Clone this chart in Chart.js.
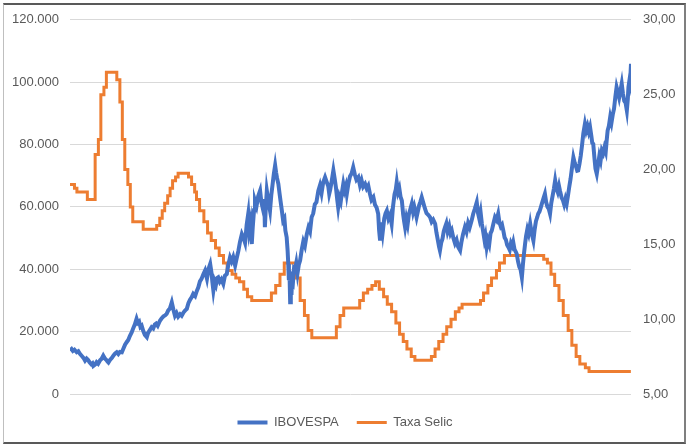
<!DOCTYPE html>
<html>
<head>
<meta charset="utf-8">
<script src="https://cdn.jsdelivr.net/npm/chart.js@4"></script>
<style>
  body { margin: 0; background: #fff; }
  #wrap { position: relative; width: 690px; height: 446px; }
  #frame {
    position: absolute; left: 3px; top: 3px; width: 680px; height: 437px;
    border-top: 2px solid #595959; border-bottom: 2px solid #595959;
    border-left: 1px solid #bfbfbf; border-right: 2px solid #7f7f7f;
    pointer-events: none;
  }
</style>
</head>
<body>
<div id="wrap">
  <canvas id="chart" width="690" height="446"></canvas>
  <div id="frame"></div>
</div>
<script>
// IBOVESPA (decimal year -> index points)
const ibovDates = [
  2002.00, 2002.05, 2002.09, 2002.14, 2002.21, 2002.26, 2002.31, 2002.37, 2002.42, 2002.47,
  2002.52, 2002.56, 2002.61, 2002.66, 2002.70, 2002.73, 2002.78, 2002.83, 2002.88, 2002.94,
  2002.99, 2003.04, 2003.09, 2003.13, 2003.17, 2003.20, 2003.25, 2003.31, 2003.36, 2003.41,
  2003.46, 2003.51, 2003.56, 2003.62, 2003.67, 2003.72, 2003.77, 2003.82, 2003.87, 2003.93,
  2003.98, 2004.03, 2004.08, 2004.12, 2004.16, 2004.20, 2004.24, 2004.29, 2004.34, 2004.40,
  2004.44, 2004.49, 2004.55, 2004.60, 2004.65, 2004.69, 2004.74, 2004.81, 2004.86, 2004.92,
  2004.97, 2005.02, 2005.07, 2005.12, 2005.18, 2005.23, 2005.28, 2005.33, 2005.38, 2005.44,
  2005.49, 2005.55, 2005.60, 2005.65, 2005.70, 2005.75, 2005.80, 2005.85, 2005.91, 2005.96,
  2006.01, 2006.06, 2006.11, 2006.17, 2006.22, 2006.28, 2006.33, 2006.38, 2006.42, 2006.45,
  2006.48, 2006.52, 2006.56, 2006.60, 2006.63, 2006.68, 2006.73, 2006.79, 2006.84, 2006.90,
  2006.95, 2007.00, 2007.05, 2007.10, 2007.16, 2007.21, 2007.26, 2007.31, 2007.37, 2007.42,
  2007.47, 2007.52, 2007.57, 2007.60, 2007.64, 2007.68, 2007.71, 2007.75, 2007.78, 2007.83,
  2007.88, 2007.94, 2007.98, 2008.04, 2008.07, 2008.09, 2008.12, 2008.15, 2008.20, 2008.25,
  2008.29, 2008.33, 2008.37, 2008.41, 2008.44, 2008.47, 2008.51, 2008.55, 2008.58, 2008.62,
  2008.66, 2008.70, 2008.73, 2008.77, 2008.80, 2008.82, 2008.84, 2008.86, 2008.88, 2008.90,
  2008.92, 2008.94, 2008.97, 2009.00, 2009.03, 2009.07, 2009.11, 2009.15, 2009.19, 2009.24,
  2009.29, 2009.34, 2009.40, 2009.45, 2009.50, 2009.55, 2009.60, 2009.65, 2009.70, 2009.76,
  2009.81, 2009.86, 2009.91, 2009.97, 2010.02, 2010.07, 2010.10, 2010.13, 2010.18, 2010.23,
  2010.27, 2010.31, 2010.35, 2010.38, 2010.42, 2010.46, 2010.50, 2010.54, 2010.58, 2010.62,
  2010.65, 2010.70, 2010.75, 2010.80, 2010.85, 2010.90, 2010.95, 2011.01, 2011.06, 2011.11,
  2011.16, 2011.22, 2011.27, 2011.32, 2011.37, 2011.42, 2011.48, 2011.53, 2011.58, 2011.63,
  2011.66, 2011.69, 2011.73, 2011.77, 2011.82, 2011.86, 2011.90, 2011.95, 2012.00, 2012.05,
  2012.09, 2012.14, 2012.18, 2012.21, 2012.25, 2012.29, 2012.33, 2012.37, 2012.41, 2012.44,
  2012.47, 2012.51, 2012.55, 2012.59, 2012.63, 2012.68, 2012.72, 2012.76, 2012.80, 2012.83,
  2012.87, 2012.91, 2012.95, 2012.99, 2013.04, 2013.09, 2013.14, 2013.20, 2013.25, 2013.30,
  2013.35, 2013.41, 2013.45, 2013.50, 2013.53, 2013.56, 2013.60, 2013.64, 2013.68, 2013.72,
  2013.76, 2013.80, 2013.85, 2013.89, 2013.93, 2013.98, 2014.03, 2014.08, 2014.13, 2014.19,
  2014.23, 2014.28, 2014.34, 2014.39, 2014.44, 2014.49, 2014.55, 2014.60, 2014.65, 2014.71,
  2014.75, 2014.79, 2014.83, 2014.87, 2014.91, 2014.95, 2014.98, 2015.02, 2015.06, 2015.10,
  2015.14, 2015.18, 2015.23, 2015.28, 2015.33, 2015.38, 2015.42, 2015.46, 2015.50, 2015.54,
  2015.58, 2015.62, 2015.66, 2015.70, 2015.74, 2015.78, 2015.82, 2015.85, 2015.89, 2015.93,
  2015.96, 2016.00, 2016.04, 2016.08, 2016.12, 2016.15, 2016.18, 2016.22, 2016.25, 2016.29,
  2016.33, 2016.38, 2016.42, 2016.45, 2016.48, 2016.52, 2016.56, 2016.60, 2016.63, 2016.67,
  2016.71, 2016.75, 2016.80, 2016.84, 2016.88, 2016.92, 2016.96, 2017.00, 2017.04, 2017.08,
  2017.12, 2017.16, 2017.20, 2017.24, 2017.28, 2017.31, 2017.36, 2017.40, 2017.44, 2017.48,
  2017.52, 2017.56, 2017.60, 2017.64, 2017.68, 2017.73, 2017.77, 2017.81, 2017.85, 2017.88,
  2017.92, 2017.96, 2018.00, 2018.04, 2018.09, 2018.13, 2018.17, 2018.21, 2018.25, 2018.29,
  2018.32, 2018.35, 2018.39, 2018.42, 2018.46, 2018.50, 2018.54, 2018.58, 2018.62, 2018.66,
  2018.70, 2018.74, 2018.77, 2018.80, 2018.84, 2018.88, 2018.92, 2018.96, 2019.00, 2019.04,
  2019.08, 2019.12, 2019.16, 2019.20, 2019.24, 2019.28, 2019.32, 2019.36, 2019.40, 2019.43,
  2019.45, 2019.48, 2019.50, 2019.53
];
const ibovValues = [
  13900, 14400, 13800, 14200, 13400, 13700, 12900, 12200, 11600, 10700,
  11400, 11000, 10200, 9600, 9900, 9000, 9400, 10200, 9700, 10800,
  11300, 12300, 11400, 11000, 10400, 10100, 10900, 11600, 12400, 13000,
  13400, 12800, 13500, 13400, 14600, 15800, 16600, 17300, 18600, 19800,
  21200, 22400, 24100, 22800, 23200, 21500, 21900, 20200, 18900, 18200,
  19600, 20400, 21400, 21000, 22300, 22600, 21900, 23500, 24200, 24900,
  25200, 25700, 26800, 27400, 29400, 27100, 25100, 26000, 24800, 25600,
  25100, 26200, 26800, 27300, 29100, 30200, 31000, 32100, 31400, 33000,
  34200, 36100, 36900, 38500, 39600, 37000, 40200, 41700, 39000, 35800,
  33200, 36100, 35000, 37200, 37400, 36000, 36800, 35300, 37900, 38500,
  41600, 43800, 42500, 43900, 41200, 43600, 45800, 48700, 51300, 50100,
  48500, 54200, 57800, 52600, 55000, 48100, 53400, 58900, 62000, 60300,
  63400, 65200, 61500, 58800, 62500, 53500, 60100, 65200, 61700, 58800,
  63800, 67200, 70600, 73300, 71000, 69200, 67400, 64100, 61800, 58800,
  55600, 56300, 52400, 50300, 46000, 41700, 36500, 38200, 29400, 35000,
  31800, 37000, 36200, 40200, 39800, 42000, 38800, 41500, 42800, 46200,
  48900, 47500, 51300, 53400, 52100, 56700, 57900, 60800, 61500, 65200,
  66900, 64400, 67800, 69500, 68000, 66600, 64200, 65500, 68400, 71700,
  69100, 66200, 62400, 59900, 63000, 61700, 64800, 67400, 65300, 66700,
  64200, 67500, 69800, 70700, 72700, 70400, 68700, 69500, 67000, 68600,
  66500, 67400, 65900, 66800, 64300, 62200, 63100, 60700, 59800, 57800,
  52400, 49200, 55000, 51800, 56300, 57900, 58800, 56200, 57400, 54600,
  59800, 64000, 65600, 67900, 64800, 66000, 63200, 62000, 57600, 55400,
  53500, 56300, 54400, 57700, 59100, 61000, 58400, 60000, 58200, 56700,
  58600, 60500, 61700, 63100, 61300, 59500, 58000, 57400, 56700, 55200,
  55900, 54600, 51800, 49000, 47300, 46000, 48500, 49800, 52200, 53500,
  54700, 52100, 53800, 51500, 52400, 50000, 48300, 49400, 47100, 46000,
  48600, 51200, 53500, 52000, 54800, 53400, 55600, 57800, 59400, 61500,
  58000, 56200, 58300, 54600, 52100, 49500, 50800, 47100, 49300, 48000,
  51500, 52400, 54600, 56700, 55800, 57800, 55000, 53700, 54300, 52400,
  50200, 49500, 47800, 47100, 46200, 48400, 47500, 48700, 46400, 45600,
  44900, 42500, 40800, 39900, 37400, 41200, 44500, 48100, 50600, 52800,
  51400, 54600, 52000, 50500, 49200, 52800, 55400, 56700, 57800, 58500,
  59800, 61200, 62900, 64200, 61500, 60000, 59400, 57800, 61300, 63500,
  65800, 68500, 66000, 64800, 66700, 65200, 63000, 62200, 60800, 62500,
  61000, 63600, 66400, 68900, 72100, 75900, 74200, 73000, 71600, 71700,
  73800, 76400, 79800, 83500, 86600, 84500, 85900, 84100, 85600, 82800,
  80500, 80200, 75400, 72300, 70600, 73400, 76300, 74800, 78100, 77200,
  79000, 77700, 81300, 84500, 86000, 88800, 87000, 89600, 91500, 95200,
  98400, 96800, 95000, 97200, 99500, 96200, 94000, 93400, 90900, 94600,
  98400, 100500, 99600, 105900
];

// Taxa Selic (change dates -> rate, % a.a.)
const selicDates = [
  "2002-01-01", "2002-02-21", "2002-03-21", "2002-07-18", "2002-10-15", "2002-11-21", "2002-12-19",
  "2003-01-23", "2003-02-20", "2003-06-19", "2003-07-24", "2003-08-21", "2003-09-18", "2003-10-23",
  "2003-11-20", "2003-12-18", "2004-04-15", "2004-09-16", "2004-10-21", "2004-11-18", "2004-12-16",
  "2005-01-20", "2005-02-17", "2005-03-17", "2005-04-20", "2005-05-19", "2005-09-15", "2005-10-20",
  "2005-11-24", "2005-12-15", "2006-01-19", "2006-03-09", "2006-04-20", "2006-06-01", "2006-07-20",
  "2006-08-31", "2006-10-19", "2006-11-30", "2007-01-25", "2007-03-08", "2007-04-19", "2007-06-07",
  "2007-07-19", "2007-09-06", "2008-04-17", "2008-06-05", "2008-07-24", "2008-09-11", "2009-01-22",
  "2009-03-12", "2009-04-30", "2009-06-11", "2009-07-23", "2010-04-29", "2010-06-10", "2010-07-22",
  "2011-01-20", "2011-03-03", "2011-04-21", "2011-06-09", "2011-07-21", "2011-09-01", "2011-10-20",
  "2011-12-01", "2012-01-19", "2012-03-08", "2012-04-19", "2012-05-31", "2012-07-12", "2012-08-30",
  "2012-10-11", "2013-04-18", "2013-05-30", "2013-07-11", "2013-08-29", "2013-10-10", "2013-11-28",
  "2014-01-16", "2014-02-27", "2014-04-03", "2014-10-30", "2014-12-04", "2015-01-22", "2015-03-05",
  "2015-04-30", "2015-06-04", "2015-07-30", "2016-10-20", "2016-12-01", "2017-01-12", "2017-02-23",
  "2017-04-13", "2017-06-01", "2017-07-27", "2017-09-07", "2017-10-26", "2017-12-07", "2018-02-08",
  "2018-03-22", "2019-07-12"
];
const selicValues = [
  19.00, 18.75, 18.50, 18.00, 21.00, 22.00, 25.00,
  25.50, 26.50, 26.00, 24.50, 22.00, 20.00, 19.00,
  17.50, 16.50, 16.00, 16.25, 16.75, 17.25, 17.75,
  18.25, 18.75, 19.25, 19.50, 19.75, 19.50, 19.00,
  18.50, 18.00, 17.25, 16.50, 15.75, 15.25, 14.75,
  14.25, 13.75, 13.25, 13.00, 12.75, 12.50, 12.00,
  11.50, 11.25, 11.75, 12.25, 13.00, 13.75, 12.75,
  11.25, 10.25, 9.25, 8.75, 9.50, 10.25, 10.75,
  11.25, 11.75, 12.00, 12.25, 12.50, 12.00, 11.50,
  11.00, 10.50, 9.75, 9.00, 8.50, 8.00, 7.50,
  7.25, 7.50, 8.00, 8.50, 9.00, 9.50, 10.00,
  10.50, 10.75, 11.00, 11.25, 11.75, 12.25, 12.75,
  13.25, 13.75, 14.25, 14.00, 13.75, 13.00, 12.25,
  11.25, 10.25, 9.25, 8.25, 7.50, 7.00, 6.75,
  6.50, 6.50
];

const leftTicks = [0, 20000, 40000, 60000, 80000, 100000, 120000];
const rightTicks = [5, 10, 15, 20, 25, 30];

function toYear(s) {
  const d = new Date(s + "T00:00:00Z");
  const start = Date.UTC(d.getUTCFullYear(), 0, 1);
  return d.getUTCFullYear() + (d - start) / (365.25 * 86400000);
}

const ibovPoints = ibovDates.map((x, i) => ({ x: x, y: ibovValues[i] }));
const selicPoints = selicDates.map((s, i) => ({ x: toYear(s), y: selicValues[i] }));

const font = { family: "'Liberation Sans', Arial, sans-serif", size: 13 };
const gray = "#595959";

new Chart(document.getElementById("chart").getContext("2d"), {
  type: "line",
  data: {
    datasets: [
      {
        label: "IBOVESPA",
        data: ibovPoints,
        borderColor: "#4472C4",
        backgroundColor: "#4472C4",
        borderWidth: 4,
        pointRadius: 0,
        yAxisID: "y",
      },
      {
        label: "Taxa Selic",
        data: selicPoints,
        borderColor: "#ED7D31",
        backgroundColor: "#ED7D31",
        borderWidth: 3,
        pointRadius: 0,
        stepped: "before",
        yAxisID: "y1",
      },
    ],
  },
  options: {
    responsive: false,
    animation: false,
    layout: { padding: { left: 0, right: 0, top: 19, bottom: 7 } },
    scales: {
      x: {
        type: "linear",
        min: 2002,
        max: 2019.53,
        grid: { display: false },
        border: { display: false },
        ticks: { display: false },
        afterFit: (scale) => { scale.height = 4; },
      },
      y: {
        position: "left",
        min: 0,
        max: 120000,
        afterBuildTicks: (scale) => { scale.ticks = leftTicks.map((v) => ({ value: v })); },
        afterFit: (scale) => { scale.width = 70; },
        grid: { color: "#d9d9d9", lineWidth: 1, drawTicks: false },
        border: { display: false },
        ticks: {
          color: gray,
          font: font,
          padding: 11,
          callback: (v) => v.toLocaleString("pt-BR"),
        },
      },
      y1: {
        position: "right",
        min: 5,
        max: 30,
        afterBuildTicks: (scale) => { scale.ticks = rightTicks.map((v) => ({ value: v })); },
        afterFit: (scale) => { scale.width = 59; },
        grid: { display: false, drawTicks: false },
        border: { display: false },
        ticks: {
          color: gray,
          font: font,
          padding: 12,
          callback: (v) => v.toFixed(2).replace(".", ","),
        },
      },
    },
    plugins: {
      legend: {
        position: "bottom",
        labels: {
          usePointStyle: true,
          pointStyle: "line",
          pointStyleWidth: 30,
          padding: 18,
          color: gray,
          font: font,
        },
      },
      tooltip: { enabled: false },
    },
  },
});
</script>
</body>
</html>
